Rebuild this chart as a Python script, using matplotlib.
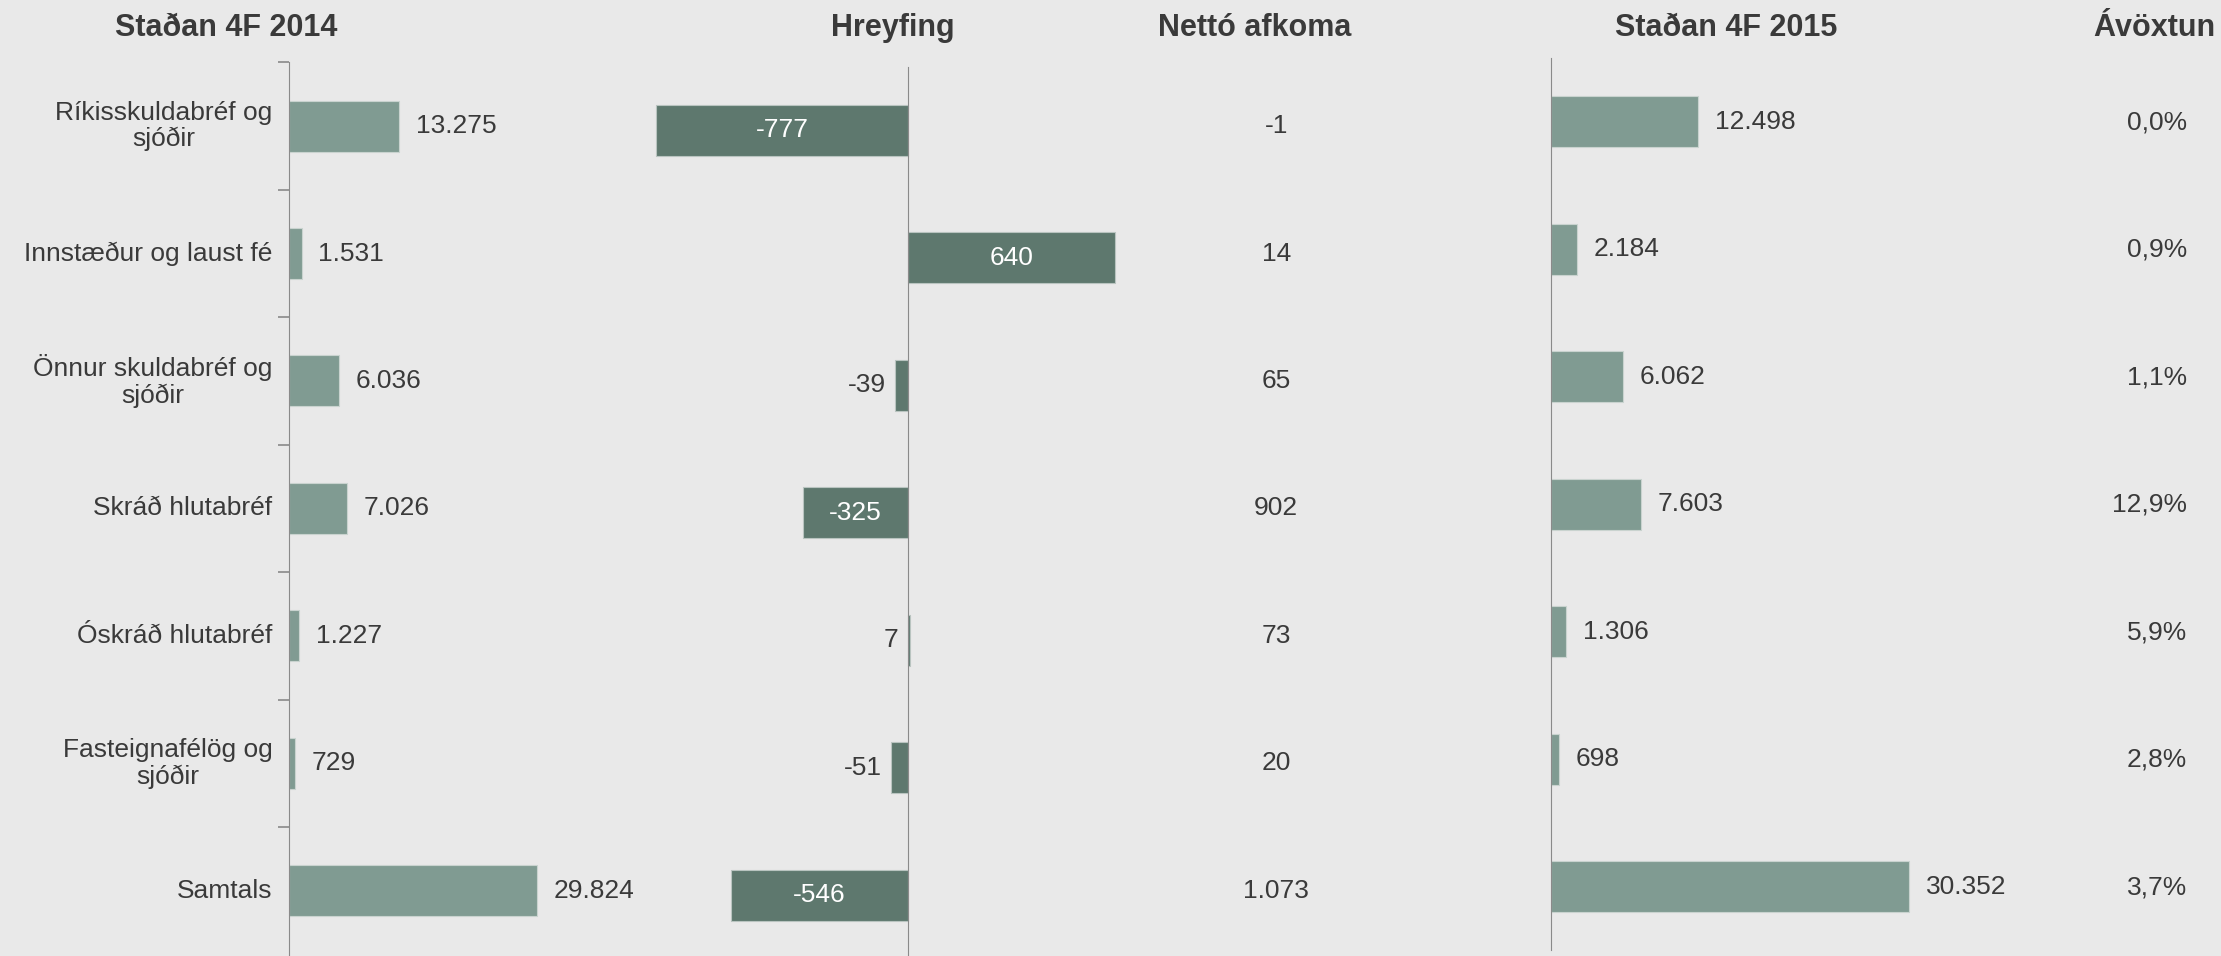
import matplotlib.pyplot as plt

plt.rcParams['font.family'] = ['Liberation Sans', 'DejaVu Sans']

categories = ["Ríkisskuldabréf og\nsjóðir", "Innstæður og laust fé", "Önnur skuldabréf og\nsjóðir",
              "Skráð hlutabréf", "Óskráð hlutabréf", "Fasteignafélög og\nsjóðir", "Samtals"]
stadan_2014 = [13275, 1531, 6036, 7026, 1227, 729, 29824]
hreyfing = [-777, 640, -39, -325, 7, -51, -546]
netto_afkoma = [-1, 14, 65, 902, 73, 20, 1073]
stadan_2015 = [12498, 2184, 6062, 7603, 1306, 698, 30352]
avoxtun = [0.0, 0.9, 1.1, 12.9, 5.9, 2.8, 3.7]

bg = '#e9e9e9'
light = '#809b92'
dark = '#5e786e'
txt = '#3a3a3a'
axcol = '#8a8a8a'

W, H = 1568, 675  # layout measured on the reduced picture


def fmt(v):
    return f"{v:,}".replace(",", ".")


def rect(left, top, width, bottom=H):
    return [left / W, 1 - bottom / H, width / W, (bottom - top) / H]


fig = plt.figure(figsize=(22.21, 9.56), dpi=100, facecolor=bg)
n = len(categories)
ypos = list(range(n))


def setup(ax, xlim):
    ax.set_facecolor('none')
    ax.set_xlim(*xlim)
    ax.set_ylim(n - 0.5, -0.5)
    for s in ['top', 'right', 'bottom']:
        ax.spines[s].set_visible(False)
    ax.set_xticks([])


# Staðan 4F 2014
ax1 = fig.add_axes(rect(204, 44, 235, 674))
setup(ax1, (0, 40000))
ax1.spines['left'].set_color(axcol)
ax1.barh(ypos, stadan_2014, height=0.4, color=light, edgecolor='#c9d3cf', linewidth=0.8)
ax1.set_yticks([i + 0.5 for i in range(-1, n - 1)])
ax1.set_yticklabels([])
ax1.tick_params(axis='y', length=8, color=axcol, width=1.2)
for i, v in enumerate(stadan_2014):
    ax1.annotate(fmt(v), (v, i), xytext=(12, 0), textcoords='offset points',
                 va='center', ha='left', fontsize=19, color=txt)
    ax1.annotate(categories[i], (0, i), xytext=(-12, 0), textcoords='offset points',
                 va='center', ha='right', fontsize=19, color=txt, linespacing=1.1,
                 multialignment='center')

# Hreyfing
ax2 = fig.add_axes(rect(435, 47, 412, 677))
setup(ax2, (-900, 900))
ax2.spines['left'].set_position(('data', 0))
ax2.spines['left'].set_color(axcol)
ax2.set_yticks([])
ax2.barh(ypos, hreyfing, height=0.4, color=dark, edgecolor='#b9c4c0', linewidth=0.8)
for i, v in enumerate(hreyfing):
    if abs(v) > 100:
        ax2.text(v / 2, i, str(v), va='center', ha='center', fontsize=19, color='white')
    else:
        ax2.annotate(str(v), (min(v, 0), i), xytext=(-7, 0), textcoords='offset points',
                     va='center', ha='right', fontsize=19, color=txt)

# Staðan 4F 2015
ax3 = fig.add_axes(rect(1095, 41, 333, 671))
setup(ax3, (0, 40000))
ax3.spines['left'].set_color(axcol)
ax3.set_yticks([])
ax3.barh(ypos, stadan_2015, height=0.4, color=light, edgecolor='#c9d3cf', linewidth=0.8)
for i, v in enumerate(stadan_2015):
    ax3.annotate(fmt(v), (v, i), xytext=(12, 0), textcoords='offset points',
                 va='center', ha='left', fontsize=19, color=txt)

# text columns: Nettó afkoma and Ávöxtun
axt = fig.add_axes(rect(0, 44, W, 674))
axt.set_xlim(0, W)
axt.set_ylim(n - 0.5, -0.5)
axt.axis('off')
for i, v in enumerate(netto_afkoma):
    axt.text(901, i, fmt(v), ha='center', va='center', fontsize=19, color=txt)
for i, v in enumerate(avoxtun):
    axt.text(1544, i - 0.03, f"{v:.1f}%".replace(".", ","), ha='right', va='center',
             fontsize=19, color=txt)

# headers
hy = 1 - 20 / H
for x, label, ha in [(160, "Staðan 4F 2014", 'center'), (630, "Hreyfing", 'center'),
                     (886, "Nettó afkoma", 'center'), (1219, "Staðan 4F 2015", 'center'),
                     (1478, "Ávöxtun", 'left')]:
    fig.text(x / W, hy, label, ha=ha, va='center', fontsize=22, fontweight='bold', color=txt)

fig.savefig('out.png', dpi=100, facecolor=bg)
